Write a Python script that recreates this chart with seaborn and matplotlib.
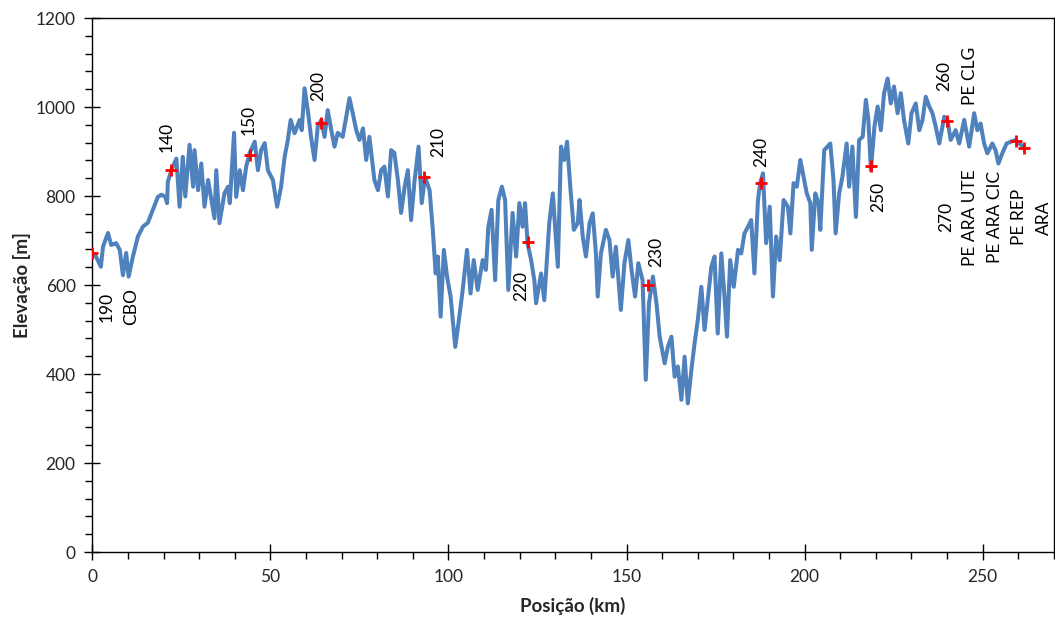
import matplotlib
matplotlib.use("Agg")
import matplotlib.pyplot as plt
from matplotlib.ticker import MultipleLocator
import seaborn as sns
import pandas as pd

# ---- data -------------------------------------------------------------
pos_km = [
    0.0, 1.1, 2.4, 3.0, 4.4, 5.3, 6.7, 7.7, 8.6, 9.5, 10.2, 11.4, 12.8, 14.2, 15.6,
    17.0, 18.4, 19.4, 20.5, 21.0, 21.2, 22.2, 23.6, 24.5, 25.4, 26.1, 27.3, 28.3,
    28.7, 29.7, 30.6, 31.5, 32.5, 34.3, 34.8, 35.7, 37.1, 38.1, 38.6, 39.8, 40.4,
    41.4, 42.3, 43.2, 44.2, 45.6, 46.5, 47.4, 48.4, 49.3, 50.7, 51.9, 53.0, 54.0,
    54.9, 55.7, 56.8, 58.2, 58.8, 59.6, 60.5, 61.4, 62.4, 63.3, 64.3, 65.2, 66.1,
    67.1, 68.0, 68.9, 70.3, 71.3, 72.2, 73.1, 74.1, 75.0, 76.0, 76.9, 77.8, 79.2,
    80.2, 81.1, 82.0, 83.0, 83.9, 84.8, 85.8, 86.7, 87.7, 88.6, 89.5, 90.5, 91.6,
    92.5, 93.4, 94.7, 95.6, 96.4, 97.0, 97.8, 98.7, 99.6, 100.6, 101.9, 102.8,
    104.0, 105.2, 106.2, 107.1, 108.2, 109.6, 110.5, 111.2, 112.1, 113.1, 114.0,
    115.0, 115.9, 116.8, 118.0, 119.0, 119.9, 120.8, 121.5, 122.2, 123.2, 124.1,
    124.6, 126.0, 126.9, 128.3, 129.3, 130.7, 131.6, 132.5, 133.3, 134.2, 135.2,
    136.3, 136.8, 137.7, 138.6, 139.6, 140.5, 141.4, 141.9, 142.8, 144.2, 145.2,
    146.1, 147.0, 148.4, 149.4, 150.5, 151.4, 152.4, 153.3, 154.5, 155.4, 156.3,
    157.4, 158.4, 159.3, 160.7, 161.6, 162.6, 163.5, 164.4, 165.4, 166.3, 167.2,
    168.2, 169.1, 170.0, 171.0, 171.9, 172.8, 173.8, 174.7, 175.6, 176.6, 177.5,
    178.2, 179.1, 180.1, 181.3, 182.2, 183.1, 184.1, 185.0, 185.9, 186.9, 187.5,
    188.3, 189.2, 190.2, 191.1, 192.0, 193.0, 194.1, 195.3, 196.0, 196.9, 197.8,
    198.8, 199.7, 200.6, 201.6, 202.0, 203.0, 203.9, 204.4, 205.5, 206.4, 207.2,
    208.1, 208.7, 209.7, 210.6, 211.8, 212.5, 213.4, 214.4, 215.3, 216.3, 217.2,
    217.9, 218.6, 219.6, 220.5, 221.4, 222.3, 223.3, 224.2, 225.1, 226.1, 227.0,
    227.9, 229.1, 230.0, 231.2, 232.2, 233.1, 234.0, 235.0, 235.9, 236.8, 237.8,
    239.2, 240.1, 241.0, 242.4, 243.4, 244.8, 246.2, 247.6, 248.5, 249.4, 250.4,
    251.3, 252.7, 253.6, 254.4, 255.5, 256.7, 257.9, 259.3, 260.2, 261.6,
]
elev_m = [
    672, 663, 641, 686, 717, 690, 694, 679, 622, 672, 619, 664, 709, 731, 740,
    769, 798, 803, 798, 784, 832, 858, 884, 776, 888, 799, 915, 821,
    903, 813, 873, 776, 836, 750, 858, 739, 806, 821, 784, 942, 798,
    858, 813, 866, 897, 922, 858, 903, 919, 858, 836, 776, 821, 888,
    926, 971, 941, 971, 948, 1042, 993, 933, 881, 956, 971, 933, 993,
    948, 911, 942, 933, 978, 1020, 987, 948, 926, 952, 881, 933, 836,
    813, 858, 866, 799, 903, 897, 836, 762, 821, 858, 746, 836, 911,
    784, 843, 813, 724, 626, 664, 529, 679, 619, 574, 461, 514,
    589, 679, 581, 656, 589, 656, 634, 731, 769, 611, 791,
    821, 791, 589, 762, 664, 784, 731, 784, 694, 656, 611,
    559, 626, 566, 739, 806, 641, 911, 881, 922, 821, 724,
    739, 791, 709, 664, 739, 761, 671, 574, 671, 724, 701,
    619, 686, 544, 649, 701, 634, 574, 649, 611, 387, 559,
    619, 559, 484, 424, 461, 484, 394, 417, 342, 439, 334,
    409, 469, 521, 596, 499, 566, 641, 664, 491, 671, 574,
    484, 656, 596, 679, 671, 716, 731, 746, 626, 791, 829,
    851, 694, 776, 574, 709, 656, 791, 776, 716, 829, 821,
    881, 843, 806, 784, 679, 806, 784, 724, 903, 911, 918,
    836, 716, 806, 843, 918, 821, 911, 753, 926, 933, 1016,
    971, 858, 956, 1001, 948, 1031, 1064, 1008, 1046, 986, 1031,
    971, 918, 986, 1008, 948, 971, 1023, 1001, 986, 956, 918,
    978, 971, 926, 948, 918, 971, 911, 986, 948, 963, 918,
    896, 918, 903, 873, 896, 918, 922, 926, 918, 910,
]

# reference markers (red crosses)
mark_km = [0.0, 22.2, 44.2, 64.3, 93.2, 122.2, 155.9, 187.8, 218.6, 240.1, 259.3, 261.6]
mark_m = [672, 858, 892, 965, 843, 697, 600, 830, 868, 969, 924, 908]

# point labels (vertical text)
label_text = ["190", "CBO", "140", "150", "200", "210", "220", "230", "240", "250",
              "260", "PE CLG", "270", "PE ARA UTE", "PE ARA CIC", "PE REP", "ARA"]
label_km = [4.1, 10.9, 20.9, 44.0, 63.5, 97.1, 120.4, 158.3, 187.8, 220.6,
            239.3, 246.3, 239.7, 246.3, 253.4, 260.3, 267.3]
label_m = [551, 551, 933, 971, 1047, 921, 598, 674, 899, 797,
           1070, 1070, 752, 752, 752, 752, 752]

x_ticks = [0, 50, 100, 150, 200, 250]
y_ticks = [0, 200, 400, 600, 800, 1000, 1200]

# ---- plot -------------------------------------------------------------
sns.set_style("white")
plt.rcParams["font.family"] = ["Lato", "DejaVu Sans"]

fig = plt.figure(figsize=(10.55, 6.19), dpi=100)
ax = fig.add_axes([0.0875, 0.1082, 0.9115, 0.8627])

df = pd.DataFrame({"pos": pos_km, "elev": elev_m})
sns.lineplot(data=df, x="pos", y="elev", sort=False, estimator=None,
             color="#4F81BD", linewidth=2.9, ax=ax)
sns.scatterplot(x=mark_km, y=mark_m, marker="+", color="#FF0000", s=75,
                linewidth=2.0, ax=ax, zorder=5)

for t, xk, ym in zip(label_text, label_km, label_m):
    ax.text(xk, ym, t, rotation=90, ha="center", va="center", fontsize=12.5,
            color="black")

ax.set_xlim(0, 270)
ax.set_ylim(0, 1200)
ax.set_xticks(x_ticks)
ax.set_yticks(y_ticks)
ax.xaxis.set_minor_locator(MultipleLocator(10))
ax.yaxis.set_minor_locator(MultipleLocator(40))
ax.tick_params(axis="both", which="major", direction="inout", length=12,
               width=1, color="black", labelsize=12.5, pad=6)
ax.tick_params(axis="both", which="minor", direction="out", length=5,
               width=1, color="black")
ax.tick_params(axis="x", which="both", bottom=True, top=False)
ax.tick_params(axis="y", which="both", left=True, right=False)

for s in ax.spines.values():
    s.set_color("black")
    s.set_linewidth(1.0)

ax.set_xlabel("Posição (km)", fontsize=13.5, fontweight="bold", labelpad=9)
ax.set_ylabel("Elevação [m]", fontsize=13.5, fontweight="bold", labelpad=3)

fig.savefig("out.png", dpi=100)
